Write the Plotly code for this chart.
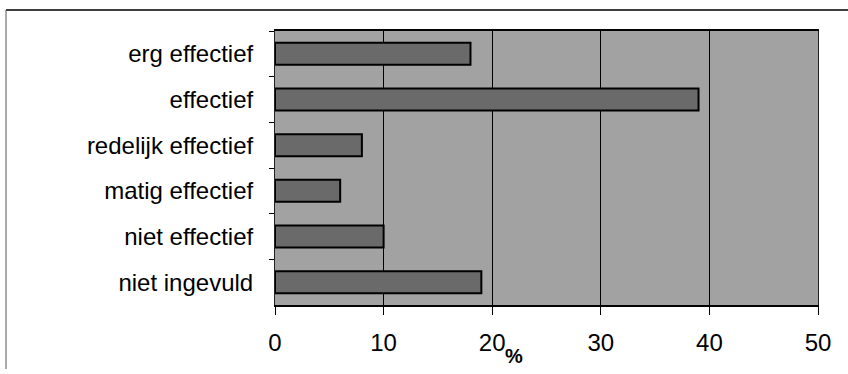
import plotly.graph_objects as go

categories = ["erg effectief", "effectief", "redelijk effectief", "matig effectief", "niet effectief", "niet ingevuld"]
values = [18, 39, 8, 6, 10, 19]
x_ticks = [0, 10, 20, 30, 40, 50]

W, H = 848, 374
L, R, T, B = 275, 30, 31, 69
pw = W - L - R
ph = H - T - B

def px(x):
    return (x - L) / pw

def py(y):
    return (H - B - y) / ph

FONT = "Liberation Sans, Arial, sans-serif"

fig = go.Figure(go.Bar(
    y=categories, x=values, orientation="h",
    width=0.48,
    marker=dict(color="#6a6a6a", line=dict(color="black", width=2)),
))

fig.update_layout(
    width=W, height=H,
    margin=dict(l=L, r=R, t=T, b=B),
    paper_bgcolor="white",
    plot_bgcolor="#a2a2a2",
    showlegend=False,
    font=dict(family=FONT, size=24, color="black"),
)
fig.update_xaxes(
    range=[0, 50], tickvals=x_ticks, ticktext=[str(v) for v in x_ticks],
    showgrid=True, gridcolor="black", gridwidth=1,
    showline=True, linecolor="black", linewidth=2, mirror=True,
    ticks="outside", ticklen=8, tickcolor="black", tickwidth=1,
    tickfont=dict(size=24, family=FONT, color="black"),
    ticklabelstandoff=7, zeroline=False,
)
fig.update_yaxes(
    categoryorder="array", categoryarray=categories, autorange="reversed",
    showgrid=False,
    showline=True, linecolor="#222222", linewidth=1, mirror=True,
    ticks="outside", ticklen=5, tickcolor="black", tickson="boundaries",
    tickfont=dict(size=24, family=FONT, color="black"),
    ticklabelstandoff=16,
)

fig.add_annotation(
    x=px(503), y=py(356), xref="paper", yref="paper",
    text="<b>%</b>", showarrow=False, xanchor="left", yanchor="middle",
    font=dict(size=20, family=FONT, color="black"),
)

# outer frame fragments (top and left)
fig.add_shape(type="line", xref="paper", yref="paper",
              x0=px(6), x1=px(848), y0=py(10), y1=py(10),
              line=dict(color="black", width=1.5))
fig.add_shape(type="line", xref="paper", yref="paper",
              x0=px(6), x1=px(6), y0=py(10), y1=py(369),
              line=dict(color="#555555", width=1))

fig.write_html("out.html")
